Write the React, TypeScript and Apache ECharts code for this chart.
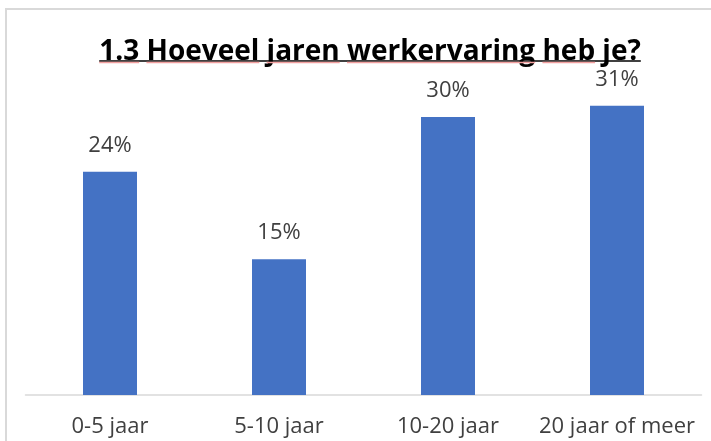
import React, { useEffect, useRef } from "react";
import * as echarts from "echarts";

const categories = ["0-5 jaar", "5-10 jaar", "10-20 jaar", "20 jaar of meer"];
const values = [0.24, 0.146, 0.299, 0.311];
const titleText = "1.3 Hoeveel jaren werkervaring heb je?";
const titleWords = ["1.3", "Hoeveel", "jaren", "werkervaring", "heb", "je?"];
const spellFlagged = [true, true, true, true, true, false];

export default function App() {
  const ref = useRef<HTMLDivElement>(null);
  useEffect(() => {
    const chart = echarts.init(ref.current!, null, { renderer: "svg" });
    const titleFamily = "Open Sans";
    const titleSize = 28;
    const ctx = document.createElement("canvas").getContext("2d")!;
    ctx.font = `bold ${titleSize}px "${titleFamily}"`;
    const totalW = ctx.measureText(titleText).width;
    const cx = 370;
    const startX = cx - totalW / 2;
    const spaceW = ctx.measureText(" ").width;
    let x = startX;
    const redLines: any[] = [];
    titleWords.forEach((w, i) => {
      const ww = ctx.measureText(w).width;
      if (spellFlagged[i]) {
        redLines.push({
          type: "line",
          silent: true,
          shape: { x1: x, y1: 62.5, x2: x + ww, y2: 62.5 },
          style: { stroke: "#f2a0a0", lineWidth: 1.5 },
        });
      }
      x += ww + spaceW;
    });

    chart.setOption({
      animation: false,
      grid: { left: 25.5, right: 9.5, top: 69.5, bottom: 46 },
      xAxis: {
        type: "category",
        data: categories,
        axisLine: { lineStyle: { color: "#d9d9d9", width: 1.5 } },
        axisTick: { show: false },
        axisLabel: {
          interval: 0,
          color: "#404040",
          fontSize: 22,
          lineHeight: 16,
          fontFamily: "Open Sans",
          margin: 21,
        },
      },
      yAxis: {
        type: "value",
        min: 0,
        max: 0.35,
        show: false,
        splitLine: { show: false },
      },
      series: [
        {
          type: "bar",
          data: values,
          barWidth: 54,
          itemStyle: { color: "#4472c4" },
          label: {
            show: true,
            position: "top",
            distance: 21,
            lineHeight: 16,
            color: "#404040",
            fontSize: 22,
            fontFamily: "Open Sans",
            formatter: (p: any) => Math.round(p.value * 100) + "%",
          },
        },
      ],
      graphic: [
        {
          type: "rect",
          silent: true,
          shape: { x: 6, y: 9, width: 1000, height: 1000 },
          style: { fill: "none", stroke: "#d9d9d9", lineWidth: 2 },
        },
        {
          type: "text",
          silent: true,
          x: cx,
          y: 49,
          style: {
            text: titleText,
            fontSize: titleSize,
            lineHeight: 22,
            fontWeight: "bold",
            fontFamily: titleFamily,
            fill: "#000000",
            align: "center",
            verticalAlign: "middle",
          },
        },
        {
          type: "line",
          silent: true,
          shape: { x1: startX, y1: 61, x2: startX + totalW, y2: 61 },
          style: { stroke: "#000000", lineWidth: 1.5 },
        },
        ...redLines,
      ],
    });
    return () => chart.dispose();
  }, []);
  return (
    <div
      ref={ref}
      style={{ position: "fixed", left: 0, top: 0, width: 711, height: 441 }}
    />
  );
}
